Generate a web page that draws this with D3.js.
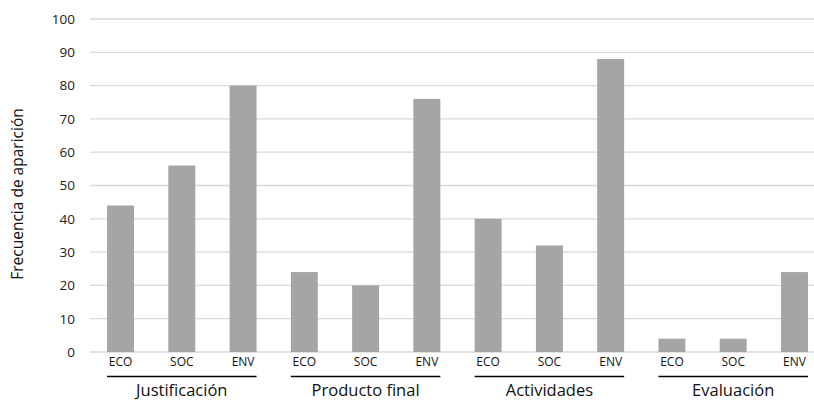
<!DOCTYPE html>
<html><head><meta charset="utf-8">
<script src="https://cdn.jsdelivr.net/npm/d3@7"></script>
<style>body{margin:0;background:#fff}svg{display:block}</style>
</head><body>
<svg id="c" width="814" height="401"></svg>
<script>
const groups = ["Justificación", "Producto final", "Actividades", "Evaluación"];
const subcats = ["ECO", "SOC", "ENV"];
const valJustificacion = [44, 56, 80];
const valProducto = [24, 20, 76];
const valActividades = [40, 32, 88];
const valEvaluacion = [4, 4, 24];
const yTicks = [0, 10, 20, 30, 40, 50, 60, 70, 80, 90, 100];
const yTitle = "Frecuencia de aparición";

const seriesByGroup = [valJustificacion, valProducto, valActividades, valEvaluacion];
const data = [];
groups.forEach((g, gi) => subcats.forEach((s, si) => data.push({g, s, key: g + "|" + s, v: seriesByGroup[gi][si]})));

const svg = d3.select("#c");
const mLeft = 90, mRight = 814, mTop = 19, mBottom = 352;
const x = d3.scaleBand().domain(data.map(d => d.key)).range([89.9, 825.1]).paddingInner(0.56).paddingOuter(0.28);
const y = d3.scaleLinear().domain([0, 100]).range([mBottom, mTop]);
const font = "'Open Sans', 'Liberation Sans', sans-serif";

// gridlines
svg.append("g").selectAll("line").data(yTicks).join("line")
  .attr("x1", mLeft).attr("x2", mRight)
  .attr("y1", d => y(d)).attr("y2", d => y(d))
  .attr("stroke", "#d9d9d9").attr("stroke-width", 1.3);

// y axis labels
const yAxis = d3.axisLeft(y).tickValues(yTicks).tickSize(0).tickPadding(0);
const ya = svg.append("g").attr("transform", "translate(75,0)").call(yAxis);
ya.select(".domain").remove();
ya.selectAll("text").attr("font-family", font).attr("font-size", 13.5).attr("font-weight", 500).attr("fill", "#222");

// bars
svg.append("g").selectAll("rect").data(data).join("rect")
  .attr("x", d => x(d.key)).attr("width", x.bandwidth())
  .attr("y", d => y(d.v)).attr("height", d => y(0) - y(d.v))
  .attr("fill", "#a5a5a5");

// subcategory labels
const xAxis = d3.axisBottom(x).tickSize(0).tickPadding(0).tickFormat(k => k.split("|")[1]);
const xa = svg.append("g").attr("transform", "translate(0,357)").call(xAxis);
xa.select(".domain").remove();
xa.selectAll("text").attr("font-family", font).attr("font-size", 12).attr("fill", "#111");

// group lines and labels
groups.forEach(g => {
  const x0 = x(g + "|" + subcats[0]);
  const x1 = x(g + "|" + subcats[subcats.length - 1]) + x.bandwidth();
  svg.append("line").attr("x1", x0).attr("x2", x1).attr("y1", 376.5).attr("y2", 376.5)
    .attr("stroke", "#000").attr("stroke-width", 1.5);
  svg.append("text").attr("x", (x0 + x1) / 2).attr("y", 396).attr("text-anchor", "middle")
    .attr("font-family", font).attr("font-size", 16.5).attr("fill", "#111").text(g);
});

// y title
svg.append("text").attr("transform", "translate(23,194) rotate(-90)").attr("text-anchor", "middle")
  .attr("font-family", font).attr("font-size", 15.5).attr("fill", "#111").text(yTitle);
</script>
</body></html>
